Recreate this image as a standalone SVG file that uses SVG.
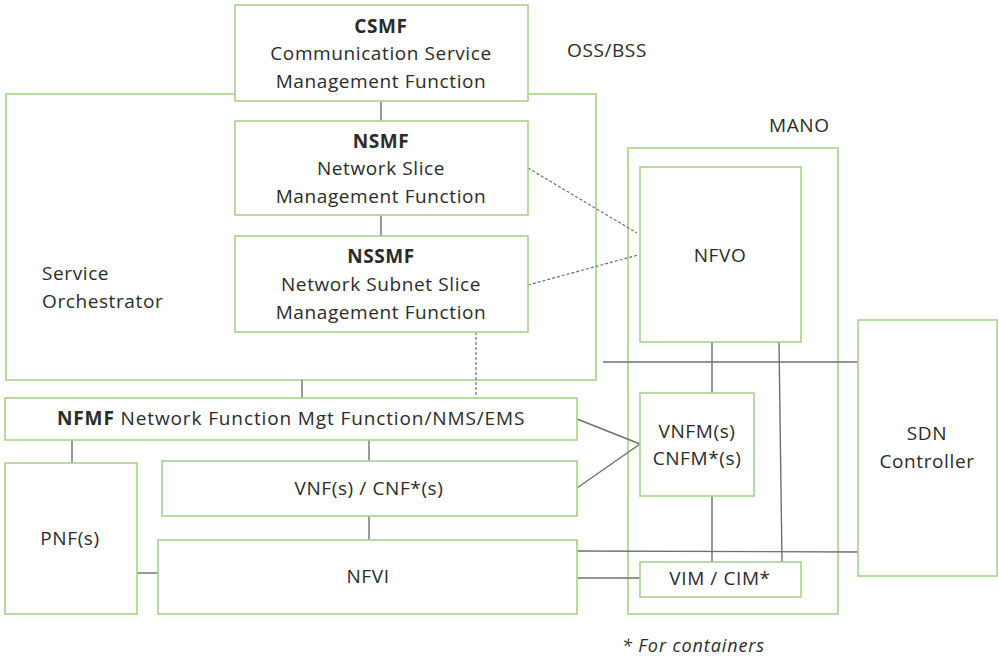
<svg xmlns="http://www.w3.org/2000/svg" width="999" height="657" viewBox="0 0 999 657">
  <style>
    .box { fill: #ffffff; stroke: #a9d18e; stroke-width: 1.6; }
    .frame { fill: none; stroke: #a9d18e; stroke-width: 1.6; }
    .link { fill: none; stroke: #6f6f6f; stroke-width: 1.4; }
    .dash { fill: none; stroke: #6f6f6f; stroke-width: 1.2; stroke-dasharray: 3 2; }
    text { font-family: "Open Sans", "Liberation Sans", sans-serif; font-size: 19px; letter-spacing: 0.6px; fill: #2b2b2b; }
    .c { text-anchor: middle; }
    .b { font-weight: bold; }
    .note { font-style: italic; font-size: 18px; letter-spacing: 0.9px; }
  </style>

  <rect width="999" height="657" fill="#ffffff"/>

  <!-- enclosing domains -->
  <g id="service-orchestrator">
    <rect class="frame" x="6" y="94" width="590" height="286"/>
    <text x="42" y="280">Service</text>
    <text x="42" y="308">Orchestrator</text>
  </g>
  <g id="mano">
    <rect class="frame" x="628" y="148" width="210" height="466"/>
    <text x="769" y="132">MANO</text>
  </g>
  <text x="567" y="57">OSS/BSS</text>

  <!-- connectors -->
  <g id="connectors">
    <line class="link" x1="381" y1="101" x2="381" y2="121"/>
    <line class="link" x1="381" y1="215" x2="381" y2="236"/>
    <line class="link" x1="302" y1="380" x2="302" y2="398"/>
    <line class="dash" x1="476" y1="332" x2="476" y2="398"/>
    <line class="dash" x1="528" y1="168" x2="637" y2="233"/>
    <line class="dash" x1="528" y1="285" x2="638" y2="255"/>
    <line class="link" x1="72" y1="440" x2="72" y2="463"/>
    <line class="link" x1="369" y1="440" x2="369" y2="461"/>
    <line class="link" x1="369" y1="516" x2="369" y2="540"/>
    <line class="link" x1="137" y1="573" x2="158" y2="573"/>
    <line class="link" x1="577" y1="419" x2="640" y2="444"/>
    <line class="link" x1="577" y1="488" x2="640" y2="444"/>
    <line class="link" x1="603" y1="362" x2="858" y2="362"/>
    <line class="link" x1="712" y1="342" x2="712" y2="393"/>
    <line class="link" x1="712" y1="496" x2="712" y2="562"/>
    <line class="link" x1="779" y1="342" x2="782" y2="562"/>
    <line class="link" x1="577" y1="551" x2="860" y2="552"/>
    <line class="link" x1="577" y1="578" x2="640" y2="578"/>
  </g>

  <!-- management functions -->
  <g id="csmf">
    <rect class="box" x="235" y="5" width="293" height="96"/>
    <text class="c b" x="381" y="33">CSMF</text>
    <text class="c" x="381" y="60">Communication Service</text>
    <text class="c" x="381" y="88">Management Function</text>
  </g>
  <g id="nsmf">
    <rect class="box" x="235" y="121" width="293" height="94"/>
    <text class="c b" x="381" y="148">NSMF</text>
    <text class="c" x="381" y="175">Network Slice</text>
    <text class="c" x="381" y="203">Management Function</text>
  </g>
  <g id="nssmf">
    <rect class="box" x="235" y="236" width="293" height="96"/>
    <text class="c b" x="381" y="263">NSSMF</text>
    <text class="c" x="381" y="291">Network Subnet Slice</text>
    <text class="c" x="381" y="319">Management Function</text>
  </g>
  <g id="nfmf">
    <rect class="box" x="5" y="398" width="572" height="42"/>
    <text x="57" y="425" textLength="468" lengthAdjust="spacing"><tspan class="b">NFMF</tspan> Network Function Mgt Function/NMS/EMS</text>
  </g>

  <!-- network functions and infrastructure -->
  <g id="pnf">
    <rect class="box" x="5" y="463" width="132" height="151"/>
    <text class="c" x="70" y="545">PNF(s)</text>
  </g>
  <g id="vnf">
    <rect class="box" x="162" y="461" width="415" height="55"/>
    <text class="c" x="369" y="495">VNF(s) / CNF*(s)</text>
  </g>
  <g id="nfvi">
    <rect class="box" x="158" y="540" width="419" height="74"/>
    <text class="c" x="368" y="583">NFVI</text>
  </g>

  <!-- MANO components -->
  <g id="nfvo">
    <rect class="box" x="640" y="167" width="161" height="175"/>
    <text class="c" x="720" y="262">NFVO</text>
  </g>
  <g id="vnfm">
    <rect class="box" x="640" y="393" width="114" height="103"/>
    <text class="c" x="697" y="438">VNFM(s)</text>
    <text class="c" x="697" y="465">CNFM*(s)</text>
  </g>
  <g id="vim">
    <rect class="box" x="640" y="562" width="161" height="35"/>
    <text class="c" x="720" y="585">VIM / CIM*</text>
  </g>

  <g id="sdn-controller">
    <rect class="box" x="858" y="320" width="139" height="256"/>
    <text class="c" x="927" y="440">SDN</text>
    <text class="c" x="927" y="468">Controller</text>
  </g>

  <text class="note" x="622" y="652">* For containers</text>
</svg>
